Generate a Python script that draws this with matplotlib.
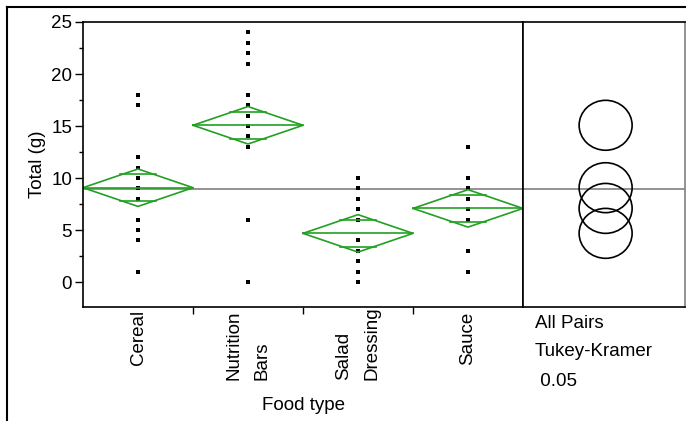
import matplotlib.pyplot as plt
import matplotlib.transforms as mtransforms
from matplotlib.lines import Line2D
from matplotlib.patches import Ellipse
import numpy as np

plt.rcParams['font.family'] = ['Liberation Sans', 'DejaVu Sans']
plt.rcParams['font.size'] = 13.5

# Values
food_types = ['Cereal', 'Nutrition\nBars', 'Salad\nDressing', 'Sauce']
cereal = [18, 17, 12, 11, 10, 9, 8, 6, 5, 4, 1]
nutrition_bars = [24, 23, 22, 21, 18, 17, 16, 15, 14, 13, 6, 0]
salad_dressing = [10, 9, 8, 7, 6, 4, 3, 2, 1, 0]
sauce = [13, 10, 9, 8, 7, 6, 3, 1]
group_means = [9.07, 15.07, 4.68, 7.08]
ci_half = [1.8, 1.8, 1.8, 1.8]
grand_mean = 8.95
circle_radius = 2.4
test_lines = ['All Pairs', 'Tukey-Kramer', ' 0.05']

groups = [cereal, nutrition_bars, salad_dressing, sauce]
green = '#22a022'
W, H = 686, 421

fig = plt.figure(figsize=(W / 100, H / 100), dpi=100)
ax = fig.add_axes([83 / W, 1 - 307 / H, 440 / W, 285 / H])
ax2 = fig.add_axes([523 / W, 1 - 307 / H, 162 / W, 285 / H])

# points
for i, vals in enumerate(groups):
    ax.plot([i + 0.5] * len(vals), vals, 's', color='black', ms=2.7, mew=0)

# means diamonds
k = 1 / np.sqrt(2)
for i, (m, c) in enumerate(zip(group_means, ci_half)):
    xc = i + 0.5
    ax.plot([i, xc, i + 1, xc, i], [m, m + c, m, m - c, m], color=green, lw=1.2)
    ax.plot([i, i + 1], [m, m], color=green, lw=1.2)
    hw = 0.5 * (1 - k) + 0.02
    for s in (1, -1):
        ax.plot([xc - hw, xc + hw], [m + s * c * k] * 2, color=green, lw=1.2)

ax.axhline(grand_mean, color='#808080', lw=1.2, zorder=0)
ax.set_xlim(0, 4)
ax.set_ylim(-2.4, 25)
ax.set_yticks([0, 5, 10, 15, 20, 25])
ax.set_yticks(np.arange(0, 25, 2.5), minor=True)
ax.set_xticks([1, 2, 3])
ax.set_xticklabels([])
ax.tick_params(axis='y', which='major', length=5.8, width=1, pad=2)
ax.tick_params(axis='y', which='minor', length=2.9, width=1)
ax.tick_params(axis='x', length=5, width=1)
ax.set_ylabel('Total (g)', labelpad=4)
for sp in ax.spines.values():
    sp.set_linewidth(1.2)

# category labels, rotated
trans = mtransforms.blended_transform_factory(ax.transData, fig.transFigure)
for i, lab in enumerate(food_types):
    y = 1 - (380 if '\n' in lab else 365) / H
    ax.text(i + 0.5, y, lab, transform=trans, rotation=90, ha='center',
            va='bottom', multialignment='left', linespacing=1.85)
fig.text(303 / W, 1 - 405 / H, 'Food type', ha='center', va='center')

# comparison circles
ax2.set_xlim(0, 1)
ax2.set_ylim(-2.4, 25)
ax2.axhline(grand_mean, color='#808080', lw=1.2, zorder=0)
for m in group_means:
    ax2.add_patch(Ellipse((0.51, m), 53 / 162, 2 * circle_radius,
                          fill=False, edgecolor='black', lw=1.2))
ax2.set_xticks([])
ax2.set_yticks([])
for sp in ax2.spines.values():
    sp.set_linewidth(1.2)
ax2.spines['right'].set_color('#808080')

for j, t in enumerate(test_lines):
    fig.text(535 / W, 1 - (323 + 29 * j) / H, t, ha='left', va='center')

# outer frame
fig.add_artist(Line2D([7 / W, 1], [1 - 7 / H] * 2, transform=fig.transFigure,
                      color='black', lw=1.5))
fig.add_artist(Line2D([7 / W] * 2, [0, 1 - 7 / H], transform=fig.transFigure,
                      color='black', lw=1.5))

fig.savefig('out.png', dpi=100)
